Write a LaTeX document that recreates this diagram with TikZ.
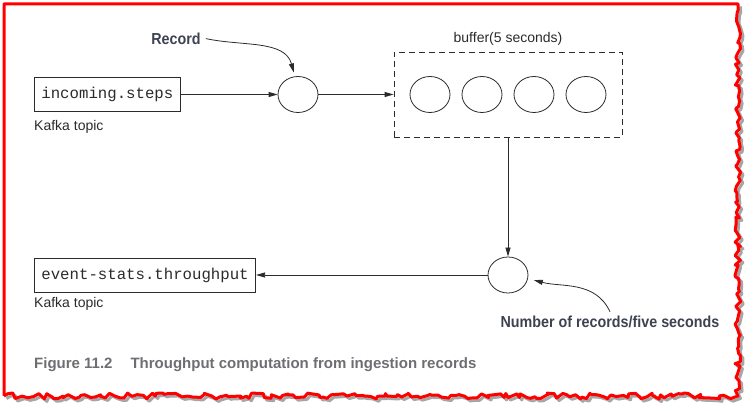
\documentclass[tikz,border=0pt]{standalone}
\usepackage{fontspec}
\setmainfont{Liberation Sans}
\setmonofont{Liberation Mono}
\newfontfamily\notefont[FakeStretch=0.9]{Liberation Sans}
\usepackage{tikz}
\usetikzlibrary{positioning,calc,shapes.geometric,arrows.meta,decorations.pathmorphing}
\definecolor{ink}{HTML}{2B2B2B}
\definecolor{notegray}{HTML}{3D4250}
\definecolor{capgray}{HTML}{6D6E71}
\tikzstyle{line} = [draw=ink,line width=0.8pt]
\tikzstyle{arrline} = [line,-{Triangle[length=9pt,width=5pt]}]
\tikzstyle{topic} = [draw=ink,line width=0.8pt,minimum height=34pt,inner xsep=7pt,anchor=west,text=ink,font=\ttfamily\fontsize{15.7}{18}\selectfont]
\tikzstyle{kafka} = [inner sep=0pt,text=ink,font=\fontsize{14}{16}\selectfont]
\tikzstyle{rec} = [draw=ink,line width=0.8pt,ellipse,minimum width=40pt,minimum height=36pt,inner sep=0pt]
\tikzstyle{window} = [draw=ink,line width=0.8pt,dash pattern=on 6pt off 4pt,minimum width=228pt,minimum height=85pt]
\tikzstyle{note} = [inner sep=0pt,anchor=base,text=notegray,font=\notefont\bfseries\fontsize{15.9}{18}\selectfont]
\tikzstyle{figcap} = [inner sep=0pt,anchor=base west,text=capgray,font=\bfseries\fontsize{15}{17}\selectfont]
\tikzstyle{torn} = [draw=red,line width=3pt,line join=round]
\tikzstyle{tornshadow} = [draw=black!35,line width=3pt,line join=round]

\begin{document}
\begin{tikzpicture}[x=1pt,y=1pt,node distance=6pt]
    \useasboundingbox (0,0) rectangle (753,-411);
    % torn page frame
    \pgfmathsetseed{11}
    \path[tornshadow,shift={(2.5,-2.5)},decoration={random steps,segment length=4pt,amplitude=3pt}]
        (738,-4) decorate {-- (738,-396) -- (4,-396)};
    \pgfmathsetseed{11}
    \path[torn,decoration={random steps,segment length=4pt,amplitude=3pt}]
        (4,-396) -- (4,-4) -- (738,-4) decorate {-- (738,-396) -- (4,-396)};

    \node[topic] (topic1) at (34,-94.5) {incoming.steps};
    \node[kafka,below right=8pt and 0pt of topic1.south west] (kafka1) {Kafka topic};
    \node[rec] (rec1) at (298,-94.5) {};
    \node[note] (reclbl) at (176,-44.3) {Record};

    \node[window] (win) at (508,-94.5) {};
    \node[kafka,above=of win] (winlbl) {buffer(5 seconds)};
    \foreach \x [count=\i] in {430,482,534,586}
        \node[rec] (buf\i) at (\x,-94.5) {};

    \node[rec] (agg) at (508,-275) {};
    \node[topic] (topic2) at (34,-275) {event-stats.throughput};
    \node[kafka,below right=5pt and 0pt of topic2.south west] (kafka2) {Kafka topic};
    \node[note] (numlbl) at (610,-328) {Number of records/five seconds};

    \path [arrline] (topic1.east) -- (rec1.west);
    \path [arrline] (rec1.east) -- (win.west);
    \path [arrline] (win.south) -- (agg.north);
    \path [arrline] (agg.west) -- (topic2.east);
    \path [arrline,shorten >=4pt] ([xshift=5pt]reclbl.east) to[out=-12,in=105] (rec1.100);
    \path [arrline,shorten >=6pt] ([yshift=4.5pt]numlbl.north) to[out=115,in=-15] (agg.-10);

    \node[figcap] (cap) at (34,-368.3) {Figure 11.2\hspace{18pt}Throughput computation from ingestion records};
\end{tikzpicture}
\end{document}
